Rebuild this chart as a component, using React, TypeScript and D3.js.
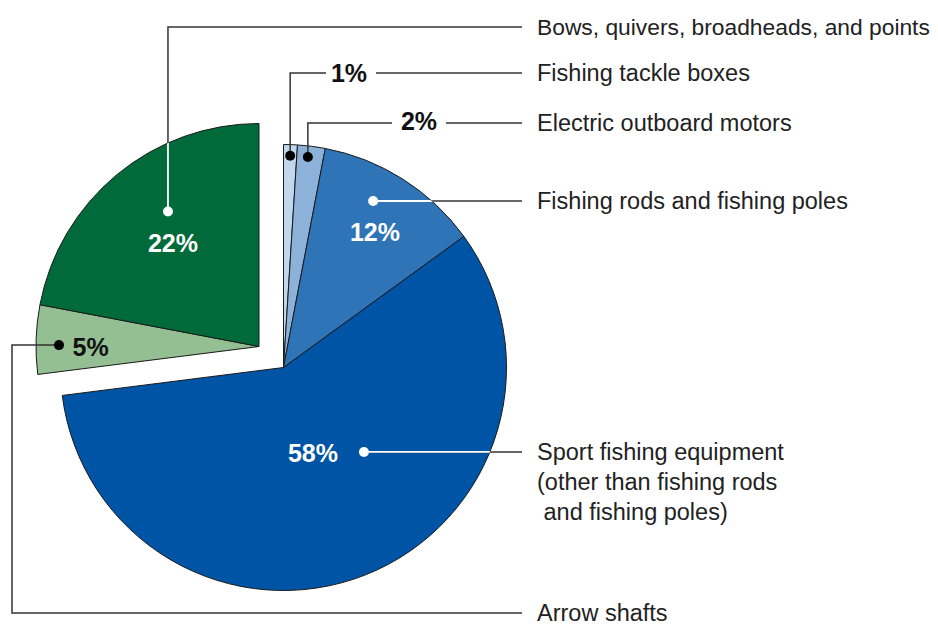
import React from "react";
import * as d3 from "d3";

const categories = [
  "Fishing tackle boxes",
  "Electric outboard motors",
  "Fishing rods and fishing poles",
  "Sport fishing equipment (other than fishing rods and fishing poles)",
  "Arrow shafts",
  "Bows, quivers, broadheads, and points",
];
const values = [1, 2, 12, 58, 5, 22];
const percentLabels = ["1%", "2%", "12%", "58%", "5%", "22%"];
const sliceColors = ["#c3d7ec", "#8cb2da", "#2e74b6", "#0054a5", "#93bf93", "#006a3b"];
const exploded = [false, false, false, false, true, true];
const calloutLines: string[][] = [
  ["Fishing tackle boxes"],
  ["Electric outboard motors"],
  ["Fishing rods and fishing poles"],
  ["Sport fishing equipment", "(other than fishing rods", " and fishing poles)"],
  ["Arrow shafts"],
  ["Bows, quivers, broadheads, and points"],
];

const W = 938;
const H = 626;
const cx = 283.5;
const cy = 367.5;
const R = 223;
const explode = { dx: -24.5, dy: -21 };
const lineColor = "#333";
const textColor = "#222";
const font = "'Liberation Sans', Arial, sans-serif";
const labelX = 537;
const lineEndX = 522;

const polar = (ox: number, oy: number, deg: number, r: number) => {
  const a = (deg * Math.PI) / 180;
  return [ox + r * Math.sin(a), oy - r * Math.cos(a)];
};

export default function App() {
  const pie = d3
    .pie<number>()
    .sort(null)
    .value((d) => d)
    .startAngle(0)
    .endAngle(2 * Math.PI);
  const arcs = pie(values);
  const arc = d3.arc<d3.PieArcDatum<number>>().innerRadius(0).outerRadius(R);

  const origin = (i: number) =>
    exploded[i] ? [cx + explode.dx, cy + explode.dy] : [cx, cy];

  // anchor (dot) position: angle in degrees, radius fraction
  const dotSpec = [
    [1.8, 0.95],
    [6.6, 0.95],
    [28.3, 0.848],
    [136.4, 0.523],
    [270.4, 0.897],
    [326, 0.73],
  ];
  const textSpec = [
    null,
    null,
    [34, 0.733],
    [161, 0.405],
    [269.8, 0.755],
    [320.3, 0.604],
  ];
  const dots = dotSpec.map(([a, f], i) => {
    const [ox, oy] = origin(i);
    return polar(ox, oy, a, f * R);
  });

  // label y levels for right-side text
  const levelY = [73, 123, 201, 452, 613, 27];

  const leaderPaths: string[] = [];
  dots.forEach(([x, y], i) => {
    const ly = levelY[i];
    if (i === 0) {
      leaderPaths.push(`M${x},${y}V${ly}H326`, `M376,${ly}H${lineEndX}`);
    } else if (i === 1) {
      leaderPaths.push(`M${x},${y}V${ly}H392`, `M446,${ly}H${lineEndX}`);
    } else if (i === 2 || i === 3) {
      leaderPaths.push(`M${x},${y}H${lineEndX}`);
    } else if (i === 4) {
      leaderPaths.push(`M${x},${y}H12V${ly}H${lineEndX}`);
    } else {
      leaderPaths.push(`M${x},${y}V${ly}H${lineEndX}`);
    }
  });

  const whiteDots = [false, false, true, true, false, true];

  return (
    <svg width={W} height={H} style={{ position: "absolute", left: 0, top: 0 }}>
      <defs>
        {arcs.map((a, i) => {
          const [ox, oy] = origin(i);
          return (
            <clipPath id={`clip${i}`} key={i}>
              <path d={arc(a) || ""} transform={`translate(${ox},${oy})`} />
            </clipPath>
          );
        })}
      </defs>
      {arcs.map((a, i) => {
        const [ox, oy] = origin(i);
        return (
          <path
            key={i}
            d={arc(a) || ""}
            transform={`translate(${ox},${oy})`}
            fill={sliceColors[i]}
            stroke="#1a1a1a"
            strokeWidth={1}
            strokeLinejoin="round"
          />
        );
      })}
      {leaderPaths.map((p, k) => (
        <path key={k} d={p} fill="none" stroke={lineColor} strokeWidth={1.5} />
      ))}
      {/* white portions inside slices */}
      {dots.map(([x, y], i) =>
        whiteDots[i] ? (
          <g key={i} clipPath={`url(#clip${i})`}>
            <path
              d={
                i === 5
                  ? `M${x},${y}V${levelY[i]}`
                  : `M${x},${y}H${lineEndX}`
              }
              stroke="#fff"
              strokeWidth={1.8}
              fill="none"
            />
          </g>
        ) : null
      )}
      {dots.map(([x, y], i) => (
        <circle key={i} cx={x} cy={y} r={5} fill={whiteDots[i] ? "#fff" : "#000"} />
      ))}
      {/* percent labels */}
      {percentLabels.map((t, i) => {
        let x: number, y: number, fill: string;
        if (i === 0) {
          x = 349; y = levelY[0]; fill = "#111";
        } else if (i === 1) {
          x = 419; y = levelY[1] - 2; fill = "#111";
        } else {
          const [ox, oy] = origin(i);
          const [a, f] = textSpec[i] as number[];
          [x, y] = polar(ox, oy, a, f * R);
          fill = i === 4 ? "#111" : "#fff";
        }
        return (
          <text
            key={i}
            x={x}
            y={y}
            textAnchor="middle"
            dominantBaseline="central"
            fontFamily={font}
            fontWeight="bold"
            fontSize={25}
            fill={fill}
          >
            {t}
          </text>
        );
      })}
      {/* category labels */}
      {calloutLines.map((lines, i) => (
        <text
          key={i}
          x={labelX}
          y={levelY[i]}
          fontFamily={font}
          fontSize={i === 5 ? 22.8 : 23.5}
          fill={textColor}
          dominantBaseline="central"
        >
          {lines.map((l, k) => (
            <tspan key={k} x={labelX} dy={k === 0 ? 0 : 30} style={{ whiteSpace: "pre" }}>
              {l}
            </tspan>
          ))}
        </text>
      ))}
    </svg>
  );
}
